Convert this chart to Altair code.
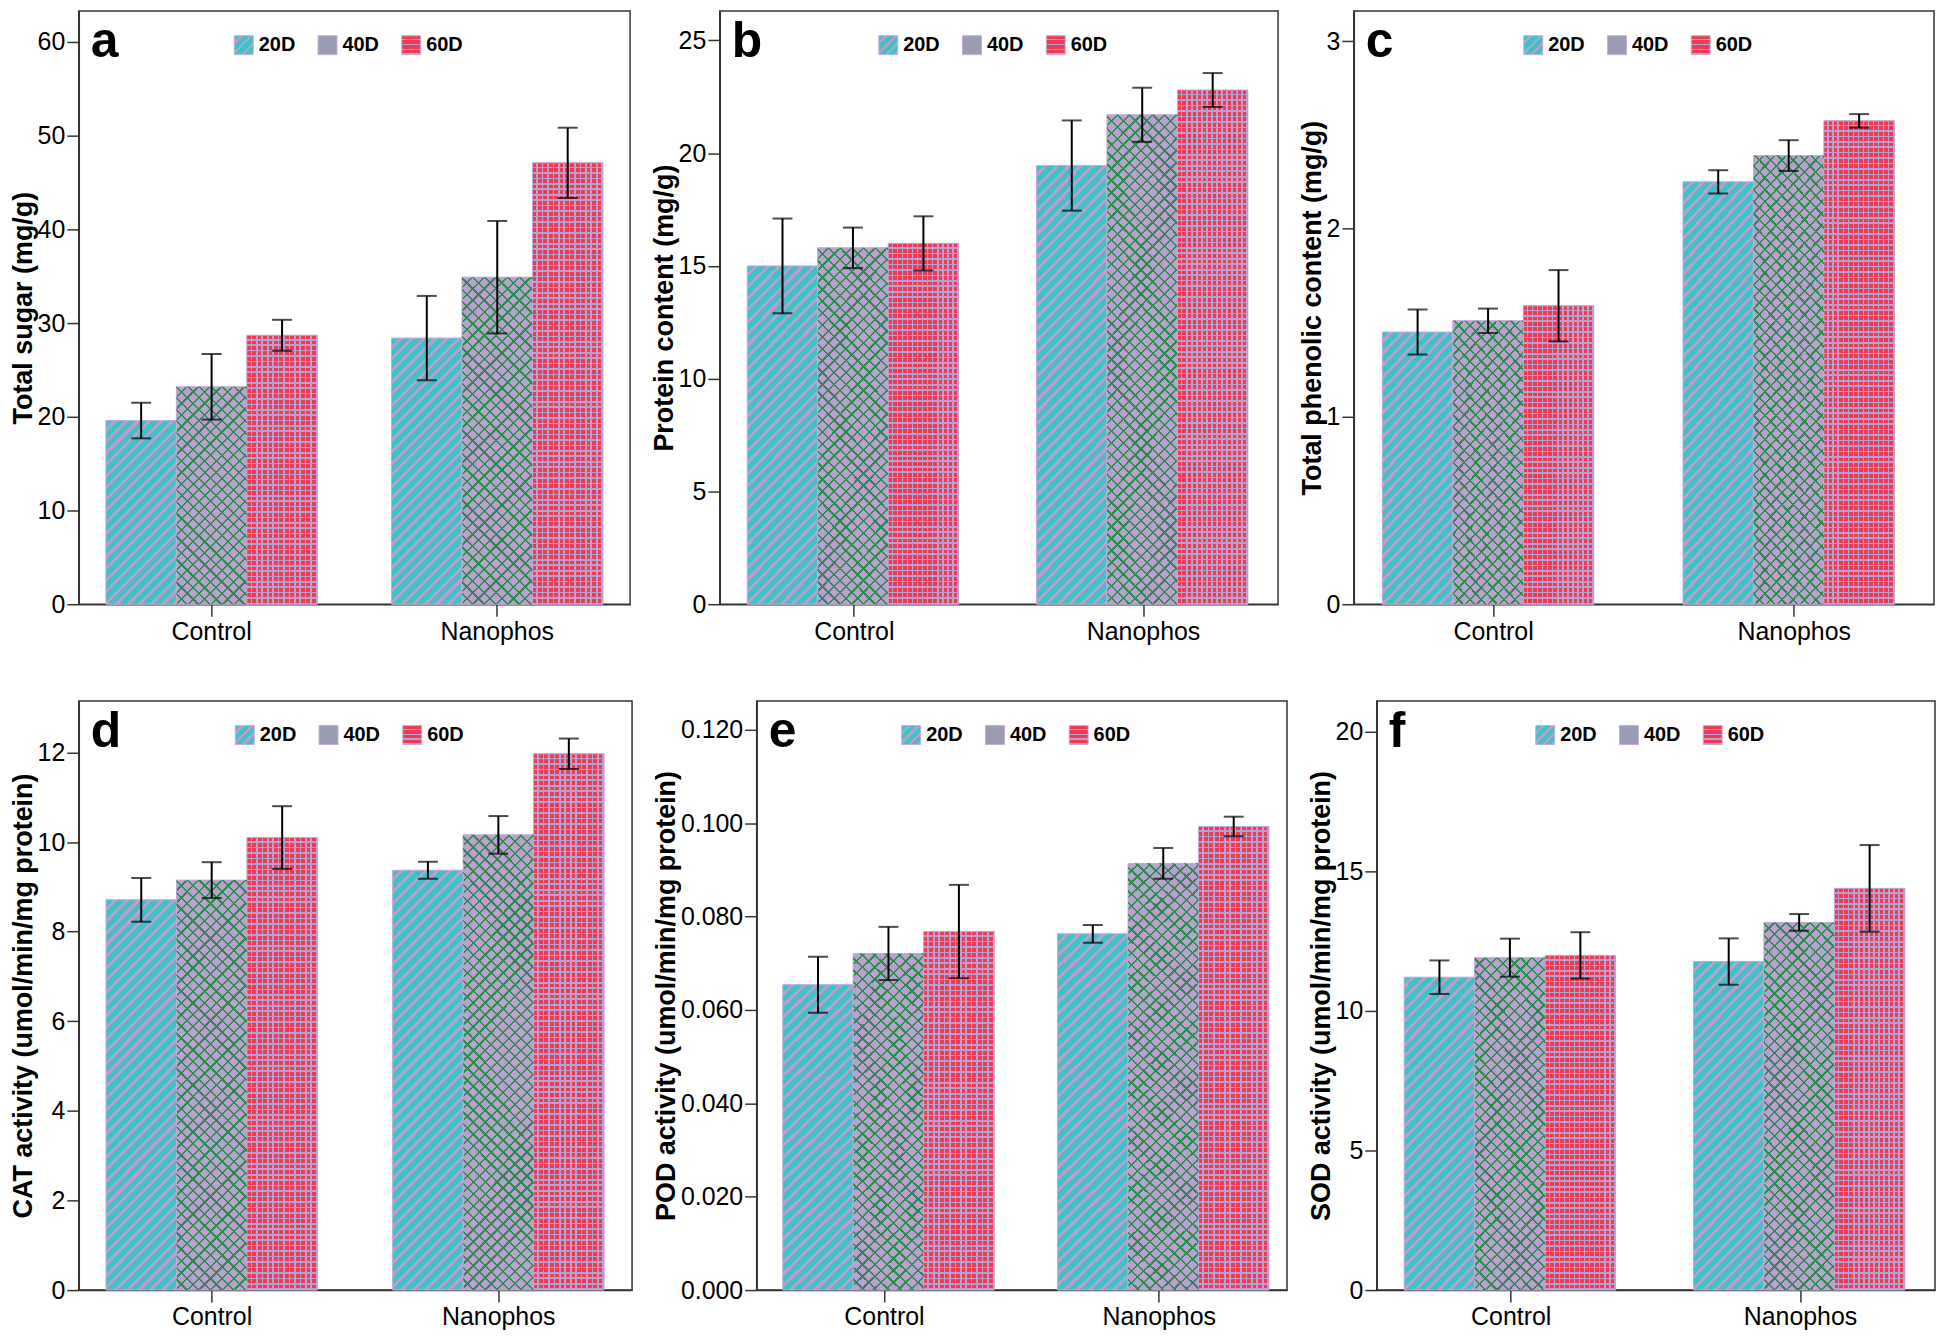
import json
import math
import altair as alt

groups = ["Control", "Nanophos"]
days = ["20D", "40D", "60D"]

sugar_mean = [19.6, 23.2, 28.7, 28.4, 34.9, 47.1]
sugar_err = [1.9, 3.5, 1.65, 4.5, 6.0, 3.75]
protein_mean = [15.0, 15.8, 16.0, 19.45, 21.7, 22.8]
protein_err = [2.1, 0.9, 1.2, 2.0, 1.2, 0.75]
phenolic_mean = [1.45, 1.51, 1.59, 2.25, 2.39, 2.575]
phenolic_err = [0.12, 0.065, 0.19, 0.062, 0.082, 0.036]
cat_mean = [8.71, 9.15, 10.1, 9.37, 10.16, 11.97]
cat_err = [0.49, 0.40, 0.70, 0.19, 0.42, 0.34]
pod_mean = [0.0654, 0.0721, 0.0768, 0.0763, 0.0914, 0.0993]
pod_err = [0.0060, 0.0057, 0.0100, 0.0019, 0.0033, 0.0021]
sod_mean = [11.2, 11.9, 11.98, 11.76, 13.16, 14.38]
sod_err = [0.60, 0.68, 0.83, 0.83, 0.30, 1.55]

FONT = "Liberation Sans"
LAV = "#C4ACD9"
LAV_FILL = "#B9A0CF"
TEAL = "#3FC1C6"
GREEN = "#2E8B50"
RED = "#EE3A52"
CLEAR = "rgba(0,0,0,0)"

PAD_IN = 0.26
PAD_OUT = 0.095


def stripes(x1, y1, x2, y2, n, col_a, col_b, frac_b):
    stops = []
    n = max(1, int(math.ceil(n)))
    for k in range(n):
        o0 = round(k / n, 6)
        o1 = round((k + 1 - frac_b) / n, 6)
        o2 = round((k + 1) / n, 6)
        stops += [{"offset": o0, "color": col_a},
                  {"offset": o1, "color": col_a},
                  {"offset": o1, "color": col_b},
                  {"offset": o2, "color": col_b}]
    return {"gradient": "linear", "x1": x1, "y1": y1, "x2": x2, "y2": y2,
            "stops": stops}


def diag(W, H, up, col_a, col_b, frac_b, period):
    # 45-degree stripes in a W x H pixel box (objectBoundingBox units)
    r = H / W
    s = (1 + r) / (1 + r * r)
    n = (W + H) / (math.sqrt(2) * period)
    if up:   # "/" lines
        return stripes(0, 0, s, s * r, n, col_a, col_b, frac_b)
    return stripes(0, 1, s, 1 - s * r, n, col_a, col_b, frac_b)


def patterns(day, W, H):
    if day == "20D":
        return diag(W, H, True, TEAL, LAV_FILL, 0.36, 8.5), None
    if day == "40D":
        return (diag(W, H, True, LAV_FILL, GREEN, 0.2, 8.5),
                diag(W, H, False, CLEAR, GREEN, 0.2, 8.5))
    g1 = stripes(0, 0, 1e-9, 1, H / 5.5, RED, LAV_FILL, 0.3)
    g2 = stripes(0, 0, 1, 0, W / 5.5, CLEAR, LAV_FILL, 0.3)
    return g1, g2


# legend swatches (19 px squares)
SW = 19
legend_range = [
    alt.ExprRef(expr=json.dumps(diag(SW, SW, True, TEAL, LAV_FILL, 0.36, 7.5))),
    "#9A9CB4",
    alt.ExprRef(expr=json.dumps(stripes(0, 0, 1e-9, 1, SW / 5.0, RED, LAV_FILL, 0.3))),
]


def panel(letter, ytitle, means, errs, ymax, ticks, fmt, width, height):
    step = width / (len(groups) - PAD_IN + 2 * PAD_OUT)
    bar_w = step * (1 - PAD_IN) / len(days)
    rows = []
    i = 0
    for g in groups:
        for dname in days:
            m, e = means[i], errs[i]
            g1, g2 = patterns(dname, bar_w, max(m / ymax * height, 1.0))
            rows.append({"group": g, "day": dname, "mean": m,
                         "lo": m - e, "hi": m + e, "g1": g1, "g2": g2})
            i += 1
    base = alt.Chart(alt.Data(values=rows))
    x = alt.X("group:N", sort=groups,
              scale=alt.Scale(paddingInner=PAD_IN, paddingOuter=PAD_OUT),
              axis=alt.Axis(title=None, labelAngle=0))
    xo = alt.XOffset("day:N", sort=days,
                     scale=alt.Scale(paddingInner=0, paddingOuter=0))
    ysc = alt.Scale(domain=[0, ymax], nice=False, zero=True)
    yax = alt.Axis(values=ticks, format=fmt, grid=False)
    legend_w = 222
    solid = base.mark_bar().encode(
        x=x, xOffset=xo,
        y=alt.Y("mean:Q", scale=ysc, axis=yax, title=ytitle, stack=None),
        color=alt.Color("day:N", sort=days,
                        scale=alt.Scale(domain=days, range=legend_range),
                        legend=alt.Legend(
                            title=None, orient="none", direction="horizontal",
                            legendX=(width - legend_w) / 2 - 10, legendY=24,
                            symbolType="square", symbolSize=361,
                            symbolStrokeColor=LAV, symbolStrokeWidth=1,
                            symbolOpacity=1,
                            labelFont=FONT, labelFontSize=20,
                            labelFontWeight="bold", labelColor="black",
                            labelOffset=5, columnPadding=20)),
    )
    pat1 = base.mark_bar(stroke=LAV, strokeWidth=1).encode(
        x=x, xOffset=xo,
        y=alt.Y("mean:Q", scale=ysc, axis=yax, title=ytitle, stack=None),
        fill=alt.Fill("g1:N", scale=None),
    )
    pat2 = base.transform_filter(alt.datum.day != "20D").mark_bar().encode(
        x=x, xOffset=xo,
        y=alt.Y("mean:Q", scale=ysc, axis=yax, title=ytitle, stack=None),
        fill=alt.Fill("g2:N", scale=None),
    )
    rules = base.mark_rule(color="black", strokeWidth=2).encode(
        x=x, xOffset=xo,
        y=alt.Y("lo:Q", scale=ysc, axis=yax, title=ytitle),
        y2="hi:Q",
    )
    cap_lo = base.mark_tick(color="black", size=20, thickness=2).encode(
        x=x, xOffset=xo,
        y=alt.Y("lo:Q", scale=ysc, axis=yax, title=ytitle),
    )
    cap_hi = base.mark_tick(color="black", size=20, thickness=2).encode(
        x=x, xOffset=xo,
        y=alt.Y("hi:Q", scale=ysc, axis=yax, title=ytitle),
    )
    label = alt.Chart(alt.Data(values=[{"letter": letter}])).mark_text(
        align="left", baseline="alphabetic", font=FONT, fontSize=50,
        fontWeight="bold", color="black",
    ).encode(text="letter:N", x=alt.value(12), y=alt.value(46))
    return alt.layer(solid, pat1, pat2, rules, cap_lo, cap_hi, label).properties(
        width=width, height=height)


H1 = 595
H2 = 591
a = panel("a", "Total sugar (mg/g)", sugar_mean, sugar_err, 63.3,
          [0, 10, 20, 30, 40, 50, 60], "d", 553, H1)
b = panel("b", "Protein content (mg/g)", protein_mean, protein_err, 26.3,
          [0, 5, 10, 15, 20, 25], "d", 560, H1)
c = panel("c", "Total phenolic content (mg/g)", phenolic_mean, phenolic_err,
          3.16, [0, 1, 2, 3], "d", 582, H1)
d = panel("d", "CAT activity (umol/min/mg protein)", cat_mean, cat_err, 13.15,
          [0, 2, 4, 6, 8, 10, 12], "d", 555, H2)
e = panel("e", "POD activity (umol/min/mg protein)", pod_mean, pod_err, 0.1262,
          [0, 0.02, 0.04, 0.06, 0.08, 0.10, 0.12], ".3f", 532, H2)
f = panel("f", "SOD activity (umol/min/mg protein)", sod_mean, sod_err, 21.09,
          [0, 5, 10, 15, 20], "d", 560, H2)

row1 = alt.hconcat(a, b, c, spacing=18).resolve_scale(color="independent")
row2 = alt.hconcat(d, e, f, spacing=18).resolve_scale(color="independent")

chart = alt.vconcat(row1, row2, spacing=55).resolve_scale(
    color="independent"
).configure(
    padding=0,
    background="white",
).configure_view(
    stroke="#333333", strokeWidth=1.5,
).configure_axis(
    domainColor="#333333", domainWidth=1.5,
    tickColor="#333333", tickWidth=1.5,
    labelFont=FONT, labelFontSize=25, labelColor="black",
    titleFont=FONT, titleFontSize=27, titleFontWeight="bold",
    titleColor="black", grid=False,
).configure_axisY(
    tickSize=12, labelPadding=2, titlePadding=0,
).configure_axisX(
    tickSize=12, labelPadding=3, labelFontSize=25,
)

chart.save("out.html", embed_options={"renderer": "svg", "actions": False})
